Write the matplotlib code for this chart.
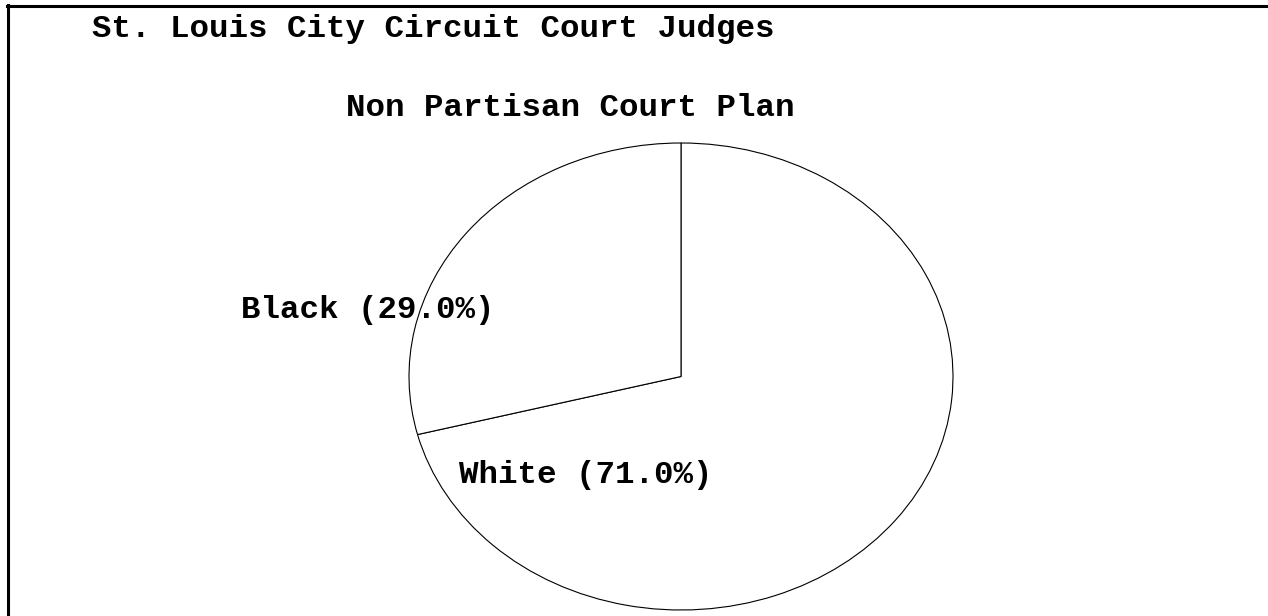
import matplotlib.pyplot as plt
from matplotlib.lines import Line2D

# data
groups = ['White', 'Black']
shares = [71.0, 29.0]
title1 = 'St. Louis City Circuit Court Judges'
title2 = 'Non Partisan Court Plan'

W, H = 1268, 616
fig = plt.figure(figsize=(W / 100, H / 100), dpi=100)
fig.patch.set_facecolor('white')

# pie axes placed over the ellipse bounding box (pixels)
x0, x1, ytop, ybot = 409, 953, 143, 610
ax = fig.add_axes([x0 / W, (H - ybot) / H, (x1 - x0) / W, (ybot - ytop) / H])
ax.pie(shares, startangle=90, counterclock=False, colors=['white', 'white'],
       wedgeprops=dict(edgecolor='black', linewidth=0.8))
ax.set_aspect('auto')
ax.set_xlim(-1.0, 1.0)
ax.set_ylim(-1.0, 1.0)
ax.axis('off')

font = dict(family=['Liberation Mono', 'DejaVu Sans Mono'], weight='bold', size=23.4)

fig.text(92 / W, 1 - 29 / H, title1, ha='left', va='center', **font)
fig.text(570 / W, 1 - 108 / H, title2, ha='center', va='center', **font)

# slice labels
label_pos = {'White': (459, 475), 'Black': (241, 310)}
for g, s in zip(groups, shares):
    px, py = label_pos[g]
    fig.text(px / W, 1 - py / H, f'{g} ({s:.1f}%)', ha='left', va='center', **font)

# frame: only top and left edges visible
fig.add_artist(Line2D([7 / W, 1], [1 - 5.5 / H, 1 - 5.5 / H], color='black', linewidth=2.2))
fig.add_artist(Line2D([8 / W, 8 / W], [0, 1 - 4.5 / H], color='black', linewidth=2.2))

plt.savefig('out.png', dpi=100)
